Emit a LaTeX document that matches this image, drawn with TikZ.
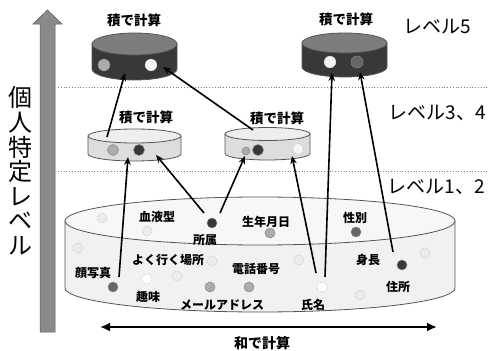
\documentclass[tikz,border=0pt]{standalone}
\usepackage{fontspec}
\setmainfont{Noto Sans CJK JP}
\usetikzlibrary{arrows.meta}
\definecolor{arrowgray}{HTML}{8A8A8A}
\definecolor{darkbody}{HTML}{383838}
\definecolor{darktop}{HTML}{7D7D7D}
\definecolor{lightbody}{HTML}{DDDDDD}
\definecolor{lighttop}{HTML}{EEEEEE}
\definecolor{bigbody}{HTML}{F1F1F1}
\definecolor{bigtop}{HTML}{F7F7F7}
\definecolor{outl}{HTML}{555555}
\newcommand\drawcyl[8]{%
  \filldraw[#8, fill=#6] (#1-#3,-#2) -- (#1-#3,-#2-#5) arc[start angle=180,end angle=360,x radius=#3,y radius=#4] -- (#1+#3,-#2) -- cycle;
  \filldraw[#8, fill=#7] (#1,-#2) ellipse[x radius=#3,y radius=#4];
}
\begin{document}
\begin{tikzpicture}[x=1pt,y=1pt,
  cylline/.style={draw=outl, line width=0.8pt},
  sepline/.style={draw=gray, line width=0.8pt, dotted},
  dot/.style={circle, inner sep=0pt, minimum size=10pt, draw=outl!70, line width=0.5pt},
  dlight/.style={dot, fill=gray!15, draw=gray!60, densely dotted},
  dwhite/.style={dot, fill=white, draw=gray!60, densely dotted},
  dgray/.style={dot, fill=gray!65},
  dmid/.style={dot, fill=gray!80!black},
  ddark/.style={dot, fill=black!78},
  lbl/.style={font=\bfseries\fontsize{12}{12}\selectfont, inner sep=0pt},
  calc/.style={font=\bfseries\fontsize{13.5}{13.5}\selectfont, inner sep=0pt},
  lvl/.style={font=\fontsize{19}{19}\selectfont, inner sep=0pt},
  conn/.style={draw=black, line width=1.6pt, -{Stealth[length=8pt,width=6.5pt]}},
]
\useasboundingbox (0,0) rectangle (488,-351);

% level separators
\coordinate (s1a) at (58,-87); \coordinate (s1b) at (488,-87);
\coordinate (s2a) at (58,-171); \coordinate (s2b) at (488,-171);
\draw[sepline] (s1a) -- (s1b);
\draw[sepline] (s2a) -- (s2b);

% vertical gray arrow
\filldraw[fill=arrowgray, draw=gray!70!black, line width=0.5pt]
  (40,-332) -- (40,-24) -- (33,-24) -- (47.5,-10) -- (62,-24) -- (55,-24) -- (55,-332) -- cycle;
\node[font=\fontsize{24}{24.6}\selectfont, align=center, inner sep=0pt] (vt) at (20.5,-171)
  {個\\人\\特\\定\\レ\\ベ\\ル};

% level labels
\node[lvl] (l5) at (437,-27) {レベル5};
\node[lvl] (l34) at (437,-113) {レベル3、4};
\node[lvl] (l12) at (436,-187) {レベル1、2};

% big bottom cylinder
\drawcyl{260}{221}{195}{24}{67}{bigbody}{bigtop}{cylline}

% middle cylinders
\drawcyl{134.5}{136}{46.5}{7}{18}{lightbody}{lighttop}{cylline}
\drawcyl{267.5}{134}{42.5}{6.5}{19.5}{lightbody}{lighttop}{cylline}

% top cylinders
\drawcyl{134.5}{44}{42.5}{11}{25}{darkbody}{darktop}{cylline}
\drawcyl{344.5}{43}{42.5}{10}{24}{darkbody}{darktop}{cylline}

% calc labels
\node[calc] (c1) at (134,-20) {積で計算};
\node[calc] (c2) at (346,-19) {積で計算};
\node[calc] (c3) at (146,-117) {積で計算};
\node[calc] (c4) at (277,-118) {積で計算};

% dots in top cylinders
\node[dgray, minimum size=12pt] (t1) at (104,-65) {};
\node[ddark, minimum size=12pt, draw=none] (t2) at (137,-73) {};
\node[dwhite, minimum size=12pt, fill=gray!8] (t3) at (151,-65) {};
\node[dwhite, minimum size=12pt, fill=gray!10] (t4) at (330,-62) {};
\node[dmid, minimum size=12pt] (t5) at (357,-62) {};

% dots in middle cylinders
\node[dgray, minimum size=11pt] (m1) at (113,-150) {};
\node[ddark, minimum size=11pt] (m2) at (139,-150) {};
\node[dgray, minimum size=8pt] (m3) at (246,-151) {};
\node[ddark, minimum size=11pt] (m4) at (258,-150) {};
\node[dwhite, minimum size=11pt, fill=gray!8] (m5) at (298,-149) {};

% dots in bottom cylinder
\node[dlight] (b1) at (102,-218) {};
\node[dlight] (b2) at (147,-231) {};
\node[ddark] (b3) at (212,-223) {};
\node[dlight] (b4) at (78,-248) {};
\node[dlight] (b5) at (212,-261) {};
\node[dmid] (b6) at (113,-287) {};
\node[dwhite] (b7) at (147,-279) {};
\node[dlight] (b8) at (177,-276) {};
\node[dgray] (b9) at (210,-287) {};
\node[dgray] (b10) at (249,-287) {};
\node[dgray] (b11) at (270,-233) {};
\node[dmid] (b12) at (356,-232) {};
\node[dlight] (b13) at (299,-260) {};
\node[ddark] (b14) at (402,-265) {};
\node[dlight] (b15) at (425,-253) {};
\node[dwhite] (b16) at (322,-287) {};
\node[dlight] (b17) at (360,-295) {};

% bottom labels
\node[lbl] (n1) at (157,-217) {血液型};
\node[lbl] (n2) at (205,-240) {所属};
\node[lbl] (n3) at (168,-260) {よく行く場所};
\node[lbl] (n4) at (93,-273) {顔写真};
\node[lbl] (n5) at (148,-297) {趣味};
\node[lbl] (n6) at (222,-305) {メールアドレス};
\node[lbl] (n7) at (256,-269) {電話番号};
\node[lbl] (n8) at (266,-222) {生年月日};
\node[lbl] (n9) at (355,-218) {性別};
\node[lbl] (n10) at (368,-260) {身長};
\node[lbl] (n11) at (398,-287) {住所};
\node[lbl] (n12) at (313,-305) {氏名};

% connectors
\coordinate (a1s) at (119,-277); \coordinate (a1e) at (128,-157);
\coordinate (a2s) at (204,-213); \coordinate (a2e) at (156,-155);
\coordinate (a3s) at (220,-213); \coordinate (a3e) at (245,-156);
\coordinate (a4s) at (316,-273); \coordinate (a4e) at (292,-156);
\coordinate (a5s) at (325,-277); \coordinate (a5e) at (332,-73);
\coordinate (a6s) at (393,-252); \coordinate (a6e) at (360,-72);
\coordinate (a7s) at (107,-137); \coordinate (a7e) at (125,-73);
\coordinate (a8s) at (253,-130); \coordinate (a8e) at (163,-67);
\draw[conn] (a1s) -- (a1e);
\draw[conn] (a2s) -- (a2e);
\draw[conn] (a3s) -- (a3e);
\draw[conn] (a4s) -- (a4e);
\draw[conn] (a5s) -- (a5e);
\draw[conn] (a6s) -- (a6e);
\draw[conn] (a7s) -- (a7e);
\draw[conn] (a8s) -- (a8e);

% horizontal double arrow
\coordinate (h1) at (100,-327); \coordinate (h2) at (437,-327);
\draw[line width=2.6pt, {Latex[length=10pt,width=9pt]}-{Latex[length=10pt,width=9pt]}] (h1) -- (h2);
\node[font=\bfseries\fontsize{14}{14}\selectfont, inner sep=0pt] (sum) at (262,-343) {和で計算};
\end{tikzpicture}
\end{document}
